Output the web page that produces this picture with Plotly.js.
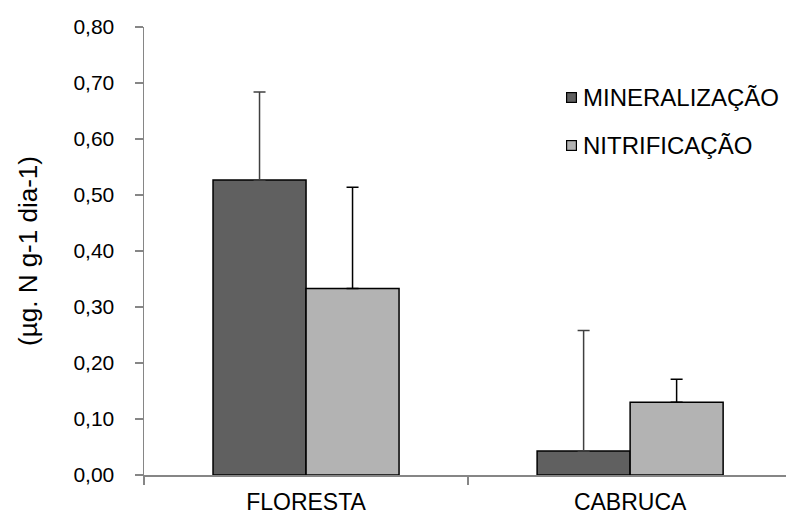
<!DOCTYPE html>
<html>
<head>
<meta charset="utf-8">
<script src="https://cdn.plot.ly/plotly-3.0.1.min.js"></script>
<style>html,body{margin:0;padding:0;background:#fff;}#chart{width:787px;height:518px;}</style>
</head>
<body>
<div id="chart"></div>
<script>
const categories = ["FLORESTA", "CABRUCA"];
const seriesNames = ["MINERALIZAÇÃO", "NITRIFICAÇÃO"];
const seriesColors = ["#606060", "#b3b3b3"];
const mineralizacao = [0.527, 0.043];
const mineralizacaoErr = [0.157, 0.215];
const nitrificacao = [0.333, 0.130];
const nitrificacaoErr = [0.181, 0.041];
const yTickVals = [0, 0.1, 0.2, 0.3, 0.4, 0.5, 0.6, 0.7, 0.8];
const yTickText = ["0,00", "0,10", "0,20", "0,30", "0,40", "0,50", "0,60", "0,70", "0,80"];

const FONT = "Liberation Sans, Arial, sans-serif";

const traces = [
  {
    type: "bar", name: seriesNames[0], x: categories, y: mineralizacao,
    marker: {color: seriesColors[0], line: {color: "#000000", width: 1.5}},
    error_y: {type: "data", symmetric: false, array: mineralizacaoErr, arrayminus: [0, 0],
              color: "#404040", thickness: 1.5, width: 6}
  },
  {
    type: "bar", name: seriesNames[1], x: categories, y: nitrificacao,
    marker: {color: seriesColors[1], line: {color: "#000000", width: 1.5}},
    error_y: {type: "data", symmetric: false, array: nitrificacaoErr, arrayminus: [0, 0],
              color: "#000000", thickness: 1.5, width: 6}
  }
];

// Legend drawn as annotations (symbol box + label), positioned in paper coords
const plotL = 144, plotW = 642, plotT = 27, plotH = 448;
const px2x = p => (p - plotL) / plotW;
const py2y = p => 1 - (p - plotT) / plotH;
const legendRows = [97, 145];
const annotations = [];
seriesNames.forEach((name, i) => {
  annotations.push({
    xref: "paper", yref: "paper", x: px2x(571), y: py2y(legendRows[i]),
    xanchor: "center", yanchor: "middle", text: "", showarrow: false,
    width: 9, height: 9, bgcolor: seriesColors[i], bordercolor: "#000000", borderwidth: 1.2, borderpad: 0
  });
  annotations.push({
    xref: "paper", yref: "paper", x: px2x(581), y: py2y(legendRows[i]),
    xanchor: "left", yanchor: "middle", text: name, showarrow: false,
    font: {family: FONT, size: 24, color: "#000000"}
  });
});

const layout = {
  width: 787, height: 518,
  margin: {l: 144, r: 1, t: 27, b: 43},
  paper_bgcolor: "#ffffff", plot_bgcolor: "#ffffff",
  font: {family: FONT, color: "#000000", size: 22},
  barmode: "group", bargap: 0.426, bargroupgap: 0,
  showlegend: false,
  annotations: annotations,
  xaxis: {
    type: "category", range: [-0.5, 1.481],
    showline: true, linecolor: "#868686", linewidth: 1.5,
    ticks: "outside", ticklen: 8, tickcolor: "#868686", tickwidth: 1.5,
    tickson: "boundaries", showgrid: false, zeroline: false,
    ticklabelstandoff: 6,
    tickfont: {family: FONT, size: 23, color: "#000000"}
  },
  yaxis: {
    range: [0, 0.8], tickmode: "array", tickvals: yTickVals, ticktext: yTickText,
    showline: true, linecolor: "#868686", linewidth: 1.5,
    ticks: "outside", ticklen: 8, tickcolor: "#868686", tickwidth: 1.5,
    ticklabelstandoff: 16, showgrid: false, zeroline: false,
    tickfont: {family: FONT, size: 21, color: "#000000"},
    title: {text: "(µg. N g-1 dia-1)", font: {family: FONT, size: 26, color: "#000000"}, standoff: 28}
  }
};

Plotly.newPlot("chart", traces, layout, {displayModeBar: false, staticPlot: true});
</script>
</body>
</html>
